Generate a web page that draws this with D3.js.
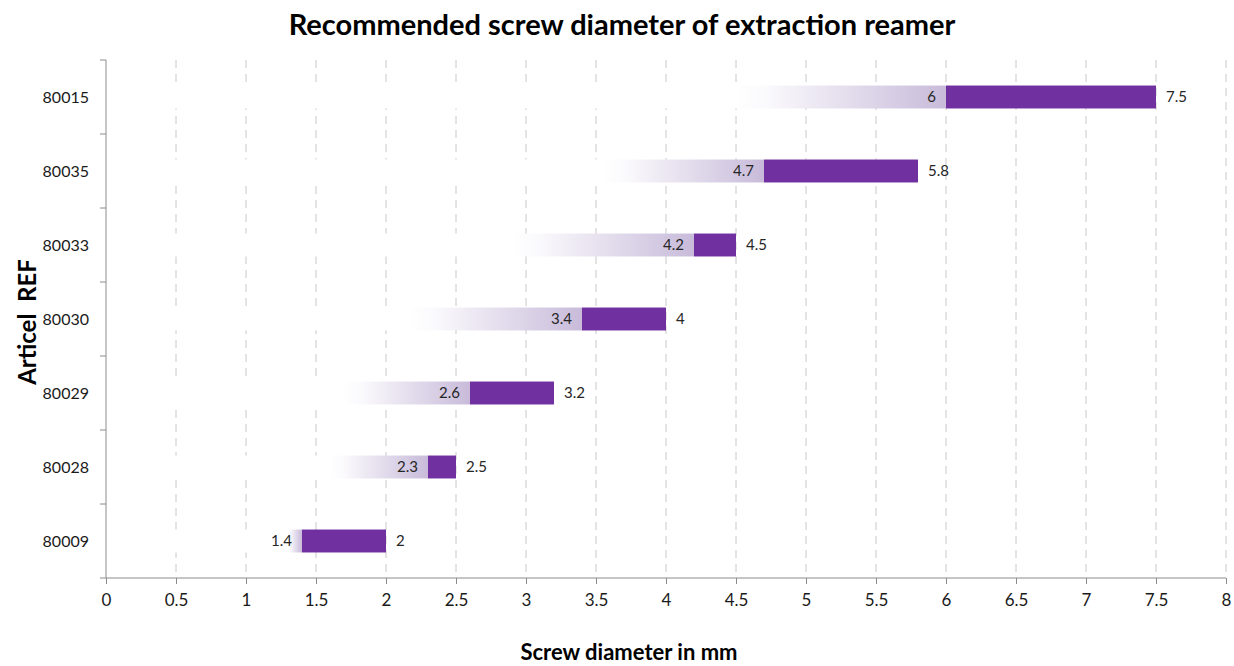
<!DOCTYPE html>
<html>
<head>
<meta charset="utf-8">
<script src="https://cdn.jsdelivr.net/npm/d3@7/dist/d3.min.js"></script>
<style>
	body { margin: 0; background: #fff; }
	text { font-family: Lato, "Open Sans", sans-serif; }
</style>
</head>
<body>
<div id="chart"></div>
<script>
// article refs, top to bottom
var refs = ['80015', '80035', '80033', '80030', '80029', '80028', '80009'];
// where the faded part of the bar starts
var fadeStart = [4.5, 3.55, 2.9, 2.17, 1.7, 1.6, 1.3];
var minDiam = [6, 4.7, 4.2, 3.4, 2.6, 2.3, 1.4];
var maxDiam = [7.5, 5.8, 4.5, 4, 3.2, 2.5, 2];
var xTicks = [0, 0.5, 1, 1.5, 2, 2.5, 3, 3.5, 4, 4.5, 5, 5.5, 6, 6.5, 7, 7.5, 8];

var w = 1234, h = 666;
var plotL = 106, plotR = 1226, plotT = 60, plotB = 578;

var svg = d3.select('#chart')
	.append('svg')
	.attr('width', w)
	.attr('height', h);

var grad = svg.append('defs').append('linearGradient')
	.attr('id', 'fade')
	.attr('x1', '0%').attr('x2', '100%');
grad.append('stop').attr('offset', '0%').attr('stop-color', '#ffffff');
grad.append('stop').attr('offset', '15%').attr('stop-color', '#faf9fc');
grad.append('stop').attr('offset', '100%').attr('stop-color', '#c8bbda');

var x = d3.scaleLinear().domain([0, 8]).range([plotL, plotR]);
var y = d3.scaleBand().domain(refs).range([plotT, plotB])
	.paddingInner(0.69).paddingOuter(0.345);
var band = (plotB - plotT) / refs.length;

// dashed gridlines
svg.append('g')
	.selectAll('line')
	.data(xTicks.slice(1))
	.enter()
	.append('line')
	.attr('x1', function(d) { return x(d); })
	.attr('x2', function(d) { return x(d); })
	.attr('y1', plotT)
	.attr('y2', plotB)
	.attr('stroke', '#c8c8c8')
	.attr('stroke-width', 1)
	.attr('stroke-dasharray', '8,6');

var rows = refs.map(function(r, i) {
	return {ref: r, start: fadeStart[i], lo: minDiam[i], hi: maxDiam[i]};
});

var g = svg.append('g');

// white part from 0 hides the grid
g.selectAll('rect.blank')
	.data(rows)
	.enter()
	.append('rect')
	.attr('class', 'blank')
	.attr('x', x(0) + 1)
	.attr('y', function(d) { return y(d.ref); })
	.attr('width', function(d) { return x(d.start) - x(0) - 1; })
	.attr('height', y.bandwidth())
	.attr('fill', '#fff');

g.selectAll('rect.fade')
	.data(rows)
	.enter()
	.append('rect')
	.attr('class', 'fade')
	.attr('x', function(d) { return x(d.start); })
	.attr('y', function(d) { return y(d.ref); })
	.attr('width', function(d) { return x(d.lo) - x(d.start); })
	.attr('height', y.bandwidth())
	.attr('fill', 'url(#fade)');

g.selectAll('rect.range')
	.data(rows)
	.enter()
	.append('rect')
	.attr('class', 'range')
	.attr('x', function(d) { return x(d.lo); })
	.attr('y', function(d) { return y(d.ref); })
	.attr('width', function(d) { return x(d.hi) - x(d.lo); })
	.attr('height', y.bandwidth())
	.attr('fill', '#7030a0');

g.selectAll('text.lo')
	.data(rows)
	.enter()
	.append('text')
	.attr('class', 'lo')
	.attr('x', function(d) { return x(d.lo) - 10; })
	.attr('y', function(d) { return y(d.ref) + y.bandwidth() / 2; })
	.attr('dy', '0.35em')
	.attr('text-anchor', 'end')
	.attr('font-size', 15)
	.attr('fill', '#262626')
	.text(function(d) { return d.lo; });

g.selectAll('text.hi')
	.data(rows)
	.enter()
	.append('text')
	.attr('class', 'hi')
	.attr('x', function(d) { return x(d.hi) + 10; })
	.attr('y', function(d) { return y(d.ref) + y.bandwidth() / 2; })
	.attr('dy', '0.35em')
	.attr('font-size', 15)
	.attr('fill', '#262626')
	.text(function(d) { return d.hi; });

// x axis
var xAxis = svg.append('g')
	.attr('transform', 'translate(0,' + plotB + ')')
	.call(d3.axisBottom(x).tickValues(xTicks).tickSize(6).tickPadding(10)
		.tickFormat(function(d) { return d; }));
xAxis.select('.domain').attr('stroke', '#8c8c8c').attr('d', 'M' + (plotL - 6) + ',0H' + plotR);
xAxis.selectAll('line').attr('stroke', '#8c8c8c');
xAxis.selectAll('text').attr('font-size', 17).attr('fill', '#1a1a1a')
	.style('font-family', 'Lato, sans-serif');

// y axis with ticks between categories
svg.append('line')
	.attr('x1', plotL).attr('x2', plotL)
	.attr('y1', plotT).attr('y2', plotB)
	.attr('stroke', '#8c8c8c');
svg.append('g')
	.selectAll('line')
	.data(d3.range(refs.length))
	.enter()
	.append('line')
	.attr('x1', plotL - 6).attr('x2', plotL)
	.attr('y1', function(d) { return plotT + d * band; })
	.attr('y2', function(d) { return plotT + d * band; })
	.attr('stroke', '#8c8c8c');

svg.append('g')
	.selectAll('text')
	.data(refs)
	.enter()
	.append('text')
	.attr('x', 89)
	.attr('y', function(d) { return y(d) + y.bandwidth() / 2; })
	.attr('dy', '0.35em')
	.attr('text-anchor', 'end')
	.attr('font-size', 16)
	.attr('fill', '#1a1a1a')
	.text(function(d) { return d; });

// titles
svg.append('text')
	.attr('x', 622).attr('y', 35)
	.attr('text-anchor', 'middle')
	.attr('font-size', 29).attr('font-weight', 'bold')
	.attr('fill', '#000')
	.text('Recommended screw diameter of extraction reamer');

svg.append('text')
	.attr('x', 629).attr('y', 660)
	.attr('text-anchor', 'middle')
	.attr('font-size', 22).attr('font-weight', 'bold')
	.attr('fill', '#000')
	.text('Screw diameter in mm');

svg.append('text')
	.attr('transform', 'translate(36,322) rotate(-90)')
	.attr('text-anchor', 'middle')
	.attr('font-size', 24).attr('font-weight', 'bold')
	.attr('fill', '#000')
	.style('white-space', 'pre')
	.text('Articel  REF');
</script>
</body>
</html>
